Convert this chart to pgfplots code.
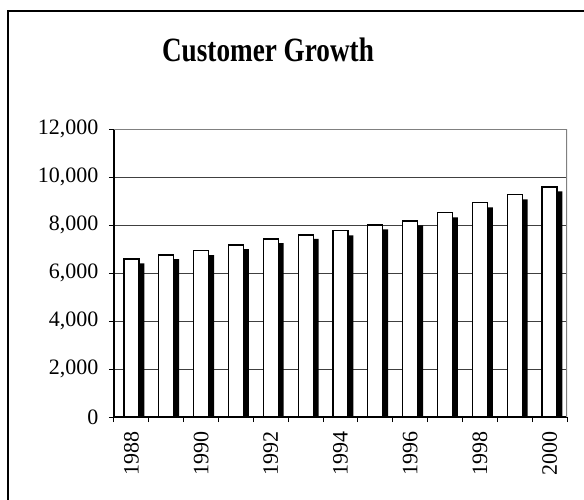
\documentclass[border=0pt]{standalone}
\usepackage{fontspec}
\setmainfont{Liberation Serif}
\usepackage{pgfplots}
\pgfplotsset{compat=1.18}
\begin{document}
\begin{tikzpicture}[x=1pt,y=1pt]
\useasboundingbox (0,0) rectangle (584,499);
\draw[line width=2pt] (7.5,-10) -- (7.5,488) -- (600,488);
\node[anchor=base, xscale=0.8, font=\fontsize{34}{38}\selectfont\bfseries] at (268,437.3) {Customer Growth};
\begin{axis}[
 at={(114pt,82pt)}, anchor=south west,
 width=453pt, height=288pt, scale only axis,
 xmin=0, xmax=13, ymin=0, ymax=12000,
 ytick={0,2000,...,12000},
 scaled y ticks=false,
 /pgf/number format/1000 sep={,},
 /pgf/number format/assume math mode=true,
 ymajorgrids, grid style={line width=0.8pt, color=black!75},
 xtick={0,1,...,13}, xticklabels={},
 extra x ticks={0.5,2.5,4.5,6.5,8.5,10.5,12.5},
 extra x tick labels={1988,1990,1992,1994,1996,1998,2000},
 extra x tick style={major tick length=0pt},
 tick align=outside,
 major tick length=5pt,
 axis x line*=bottom, axis y line*=left,
 axis line style={line width=1.2pt, -},
 tick style={line width=1pt, black},
 ticklabel style={font=\fontsize{22}{24}\selectfont},
 yticklabel style={xshift=-7pt},
 xticklabel style={yshift=-11pt, rotate=90, anchor=east},
]
\addplot[ybar, bar width=15pt, bar shift=5.4pt, fill=black, draw=none] coordinates {
(0.5,6404) (1.5,6583) (2.5,6750) (3.5,7000) (4.5,7250) (5.5,7417) (6.5,7569)
(7.5,7819) (8.5,7986) (9.5,8319) (10.5,8736) (11.5,9069) (12.5,9403)};
\addplot[ybar, bar width=15pt, bar shift=0pt, fill=white, draw=black, line width=1.2pt] coordinates {
(0.5,6583) (1.5,6750) (2.5,6930) (3.5,7167) (4.5,7417) (5.5,7583) (6.5,7764)
(7.5,8000) (8.5,8167) (9.5,8514) (10.5,8931) (11.5,9264) (12.5,9583)};
\draw[gray, line width=1.2pt] (rel axis cs:0,1) -- (rel axis cs:1,1) -- (rel axis cs:1,0);
\end{axis}
\end{tikzpicture}
\end{document}
